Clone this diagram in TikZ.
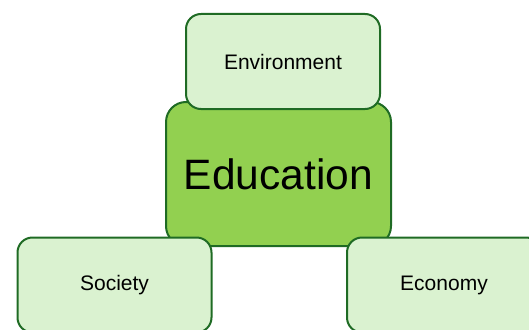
\documentclass[tikz,border=0pt]{standalone}
\usepackage{fontspec}
\setmainfont{Liberation Sans}
\definecolor{boxline}{HTML}{1F6B24}
\definecolor{boxlight}{HTML}{DAF2D0}
\definecolor{boxcore}{HTML}{92D050}
\tikzstyle{pillar}=[draw=boxline, line width=2pt, fill=boxlight, rounded corners=15pt,
                    minimum width=194pt, minimum height=95pt, inner sep=0,
                    font=\fontsize{21}{24}\selectfont]
\tikzstyle{core}=[pillar, fill=boxcore, rounded corners=20pt,
                  minimum width=225pt, minimum height=144pt,
                  font=\fontsize{42.5}{48}\selectfont]
\begin{document}
\begin{tikzpicture}[x=1pt, y=-1pt]
    \clip (0, 0) rectangle (529, 329);
    \node[core]   (edu)     at (278.5, 174) {Education};
    \node[pillar] (env)     at (283, 61.5)  {Environment};
    \node[pillar] (society) at (114.5, 285) {Society};
    \node[pillar] (economy) at (444, 285)   {Economy};
\end{tikzpicture}
\end{document}
